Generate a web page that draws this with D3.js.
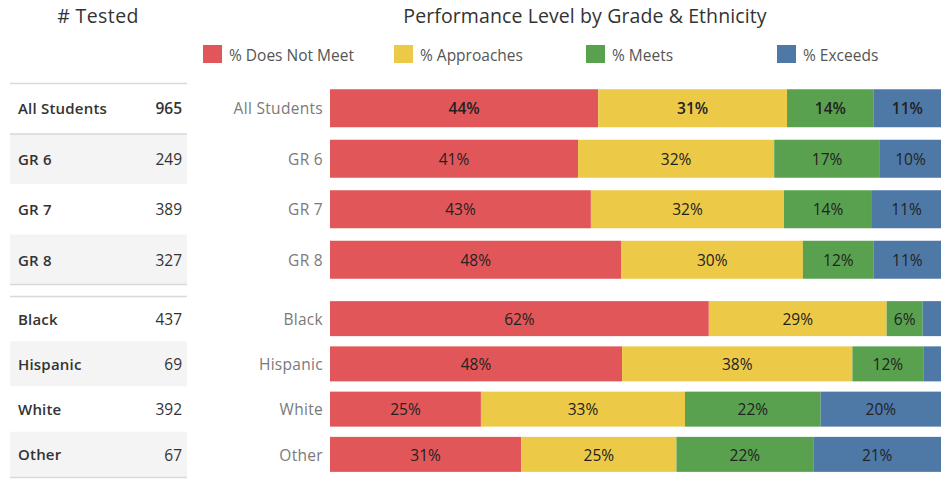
<!DOCTYPE html>
<html>
<head>
<meta charset="utf-8">
<script src="https://cdn.jsdelivr.net/npm/d3@7"></script>
<style>
  html, body { margin: 0; padding: 0; background: #fff; }
  svg { display: block; font-family: "Open Sans", sans-serif; }
</style>
</head>
<body>
<svg id="chart" width="942" height="480"></svg>
<script>
// ---- data ----
const gradeGroups = ["All Students", "GR 6", "GR 7", "GR 8"];
const ethnicGroups = ["Black", "Hispanic", "White", "Other"];
const testedCounts = [965, 249, 389, 327, 437, 69, 392, 67];
const levels = ["% Does Not Meet", "% Approaches", "% Meets", "% Exceeds"];
const levelColors = ["#e15759", "#edc948", "#59a14f", "#4e79a7"];
// percent of students per level, one array per level, in row order
const pctDoesNotMeet = [43.9, 40.6, 42.7, 47.7, 62.0, 47.8, 24.7, 31.3];
const pctApproaches  = [30.9, 32.1, 31.6, 29.7, 29.1, 37.7, 33.4, 25.4];
const pctMeets       = [14.2, 17.3, 14.4, 11.6,  5.9, 11.6, 22.2, 22.4];
const pctExceeds     = [11.0, 10.0, 11.3, 11.0,  3.0,  2.9, 19.7, 20.9];

const svg = d3.select("#chart");
const rowNames = gradeGroups.concat(ethnicGroups);
const levelValues = [pctDoesNotMeet, pctApproaches, pctMeets, pctExceeds];

const rows = rowNames.map((name, i) => {
  const obj = { name, n: testedCounts[i] };
  levels.forEach((l, j) => obj[l] = levelValues[j][i]);
  return obj;
});
const stacked = d3.stack().keys(levels)(rows);

// ---- scales ----
const x = d3.scaleLinear().domain([0, 100]).range([330, 941]);
const y1 = d3.scaleBand().domain(gradeGroups).range([83, 285]).padding(0);
const y2 = d3.scaleBand().domain(ethnicGroups).range([296, 477]).padding(0);
const yPos = name => gradeGroups.includes(name) ? y1(name) : y2(name);
const step = name => gradeGroups.includes(name) ? y1.bandwidth() : y2.bandwidth();
const barH = name => gradeGroups.includes(name) ? 38 : 35;
const barY = name => yPos(name) + (step(name) - barH(name)) / 2;
const yMid = name => yPos(name) + step(name) / 2;
const DY = "0.4em";

// ---- titles ----
svg.append("text").attr("x", 98).attr("y", 23).attr("text-anchor", "middle")
  .attr("font-size", 19.5).attr("letter-spacing", 0.4).attr("fill", "#333").text("# Tested");
svg.append("text").attr("x", 585).attr("y", 23).attr("text-anchor", "middle")
  .attr("font-size", 19.5).attr("letter-spacing", 0.1).attr("fill", "#333")
  .text("Performance Level by Grade & Ethnicity");

// ---- legend ----
const legendX = [203, 394, 586, 777];
const lg = svg.append("g").selectAll("g").data(levels).join("g")
  .attr("transform", (d, i) => `translate(${legendX[i]},45)`);
lg.append("rect").attr("width", 19).attr("height", 18).attr("fill", (d, i) => levelColors[i]);
lg.append("text").attr("x", 26).attr("y", 10).attr("dy", "0.36em")
  .attr("font-size", 15.5).attr("fill", "#555").text(d => d);

// ---- table ----
const table = svg.append("g");
const tableL = 10, tableR = 187;
table.selectAll("rect.bg").data(rows).join("rect")
  .attr("class", "bg")
  .attr("x", tableL).attr("width", tableR - tableL)
  .attr("y", d => yPos(d.name)).attr("height", d => step(d.name))
  .attr("fill", d => {
    const idx = gradeGroups.includes(d.name) ? gradeGroups.indexOf(d.name) : ethnicGroups.indexOf(d.name);
    return idx % 2 === 1 ? "#f4f4f4" : "#fff";
  });
const lineYs = [y1.range()[0], y1("GR 6"), y1.range()[1] - 1, y2.range()[0], y2.range()[1]];
table.selectAll("line").data(lineYs).join("line")
  .attr("x1", tableL).attr("x2", tableR)
  .attr("y1", d => d + 0.5).attr("y2", d => d + 0.5)
  .attr("stroke", "#d9d9d9").attr("stroke-width", 1.5);
table.selectAll("text.name").data(rows).join("text")
  .attr("class", "name")
  .attr("x", 18).attr("y", d => yMid(d.name)).attr("dy", DY)
  .attr("font-size", 15).attr("font-weight", 600).attr("letter-spacing", 0.2).attr("fill", "#333")
  .text(d => d.name);
table.selectAll("text.num").data(rows).join("text")
  .attr("class", "num")
  .attr("x", 182).attr("y", d => yMid(d.name)).attr("dy", DY)
  .attr("text-anchor", "end")
  .attr("font-size", 15.5).attr("font-weight", (d, i) => i === 0 ? 600 : 400)
  .attr("fill", "#333")
  .text(d => d3.format(",")(d.n));

// ---- axis labels ----
svg.append("g").selectAll("text").data(rowNames).join("text")
  .attr("x", 323).attr("y", d => yMid(d)).attr("dy", DY)
  .attr("text-anchor", "end").attr("font-size", 15.5).attr("letter-spacing", 0.3).attr("fill", "#7a7a7a")
  .text(d => d);

// ---- bars ----
const barG = svg.append("g");
stacked.forEach((layer, li) => {
  const g = barG.append("g");
  g.selectAll("rect").data(layer).join("rect")
    .attr("x", d => x(d[0])).attr("width", d => x(d[1]) - x(d[0]))
    .attr("y", d => barY(d.data.name)).attr("height", d => barH(d.data.name))
    .attr("fill", levelColors[li]);
  g.selectAll("text").data(layer.filter(d => x(d[1]) - x(d[0]) > 25)).join("text")
    .attr("x", d => (x(d[0]) + x(d[1])) / 2)
    .attr("y", d => yMid(d.data.name)).attr("dy", DY)
    .attr("text-anchor", "middle").attr("font-size", 15.5)
    .attr("font-weight", d => d.data.name === "All Students" ? 600 : 400)
    .attr("fill", "#222")
    .text(d => Math.round(d[1] - d[0]) + "%");
});
</script>
</body>
</html>
